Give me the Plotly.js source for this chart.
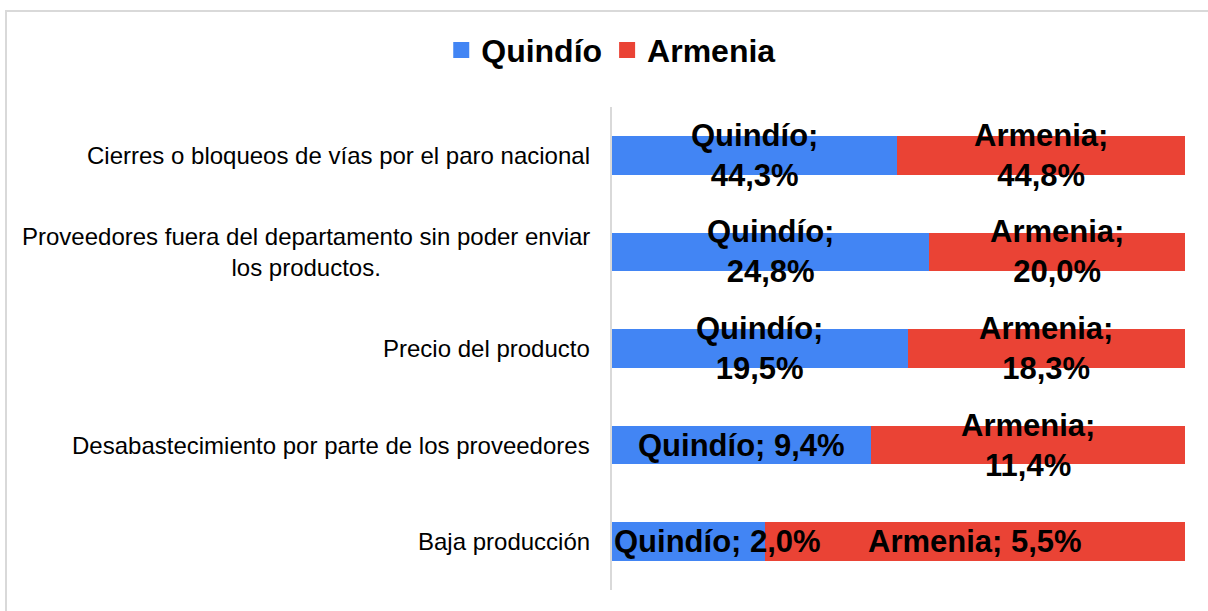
<!DOCTYPE html>
<html>
<head>
<meta charset="utf-8">
<script src="https://cdn.plot.ly/plotly-3.0.1.min.js"></script>
<style>
  html, body { margin: 0; padding: 0; background: #fff; overflow: hidden; }
  #wrap { position: relative; width: 1208px; height: 611px; }
  #chart { position: absolute; left: 0; top: 0; width: 1208px; height: 611px; }
  #frame { position: absolute; left: 5px; top: 10px; width: 1400px; height: 800px;
           border-left: 2px solid #d9d9d9; border-top: 2px solid #d9d9d9;
           pointer-events: none; z-index: 5; }
</style>
</head>
<body>
<div id="wrap">
  <div id="chart"></div>
  <div id="frame"></div>
</div>
<script>
const categories = [
  "Cierres o bloqueos de vías por el paro nacional",
  "Proveedores fuera del departamento sin poder enviar<br>los productos.",
  "Precio del producto",
  "Desabastecimiento por parte de los proveedores",
  "Baja producción"
];
const seriesNames = ["Quindío", "Armenia"];
const quindio = [44.3, 24.8, 19.5, 9.4, 2.0];
const armenia = [44.8, 20.0, 18.3, 11.4, 5.5];
const colors = ["#4285F4", "#EA4335"];

const FONT = "Liberation Sans, Arial, Helvetica, sans-serif";

function fmt(v) { return v.toFixed(1).replace(".", ","); }
function label(name, v) {
  const s = fmt(v);
  return name + ";" + (s.length > 3 ? "<br>" : " ") + s + "%";
}

const traces = [quindio, armenia].map((vals, i) => ({
  type: "bar",
  orientation: "h",
  name: seriesNames[i],
  x: vals,
  y: categories,
  marker: { color: colors[i], line: { width: 0 } },
  showlegend: false,
  hoverinfo: "name+x"
}));
// legend entries with larger square swatches
seriesNames.forEach((n, i) => {
  traces.push({
    type: "scatter", mode: "markers", name: n,
    x: [null], y: [null],
    marker: { symbol: "square", size: 16, color: colors[i] },
    showlegend: true, hoverinfo: "skip"
  });
});

const annotations = [];
// category labels
categories.forEach(c => {
  annotations.push({
    xref: "paper", yref: "y", x: 0, y: c, xanchor: "right", yanchor: "middle",
    xshift: -20, text: c, showarrow: false, align: "center",
    font: { family: FONT, size: 24, color: "#000" }
  });
});
// data labels (positions from normalized data)
categories.forEach((c, k) => {
  const tot = quindio[k] + armenia[k];
  const qs = quindio[k] / tot * 100;
  const as = armenia[k] / tot * 100;
  const small = qs < 30;
  annotations.push({
    xref: "x", yref: "y", x: small ? 0 : qs / 2, y: c,
    xanchor: small ? "left" : "center", yanchor: "middle",
    text: label(seriesNames[0], quindio[k]), showarrow: false, align: "center",
    font: { family: FONT, size: 31, color: "#000", weight: "bold" }
  });
  annotations.push({
    xref: "x", yref: "y", x: qs + as / 2, y: c,
    xanchor: "center", yanchor: "middle",
    text: label(seriesNames[1], armenia[k]), showarrow: false, align: "center",
    font: { family: FONT, size: 31, color: "#000", weight: "bold" }
  });
});

const layout = {
  width: 1208, height: 611,
  margin: { l: 612, r: 23, t: 107, b: 21, pad: 0 },
  paper_bgcolor: "#fff", plot_bgcolor: "#fff",
  barmode: "stack", barnorm: "percent", bargap: 0.6,
  showlegend: true,
  legend: {
    orientation: "h", xref: "container", yref: "container",
    x: 0.506, xanchor: "center", y: 0.918, yanchor: "middle",
    font: { family: FONT, size: 32, color: "#000", weight: "bold" },
    traceorder: "normal", itemwidth: 30
  },
  xaxis: { range: [0, 100], visible: false, fixedrange: true },
  yaxis: {
    type: "category", categoryorder: "array", categoryarray: categories,
    autorange: "reversed", showticklabels: false, ticks: "",
    showline: true, linecolor: "#d9d9d9", linewidth: 2,
    showgrid: false, zeroline: false, fixedrange: true
  },
  annotations: annotations
};

Plotly.newPlot("chart", traces, layout, { displayModeBar: false, staticPlot: true });
</script>
</body>
</html>
